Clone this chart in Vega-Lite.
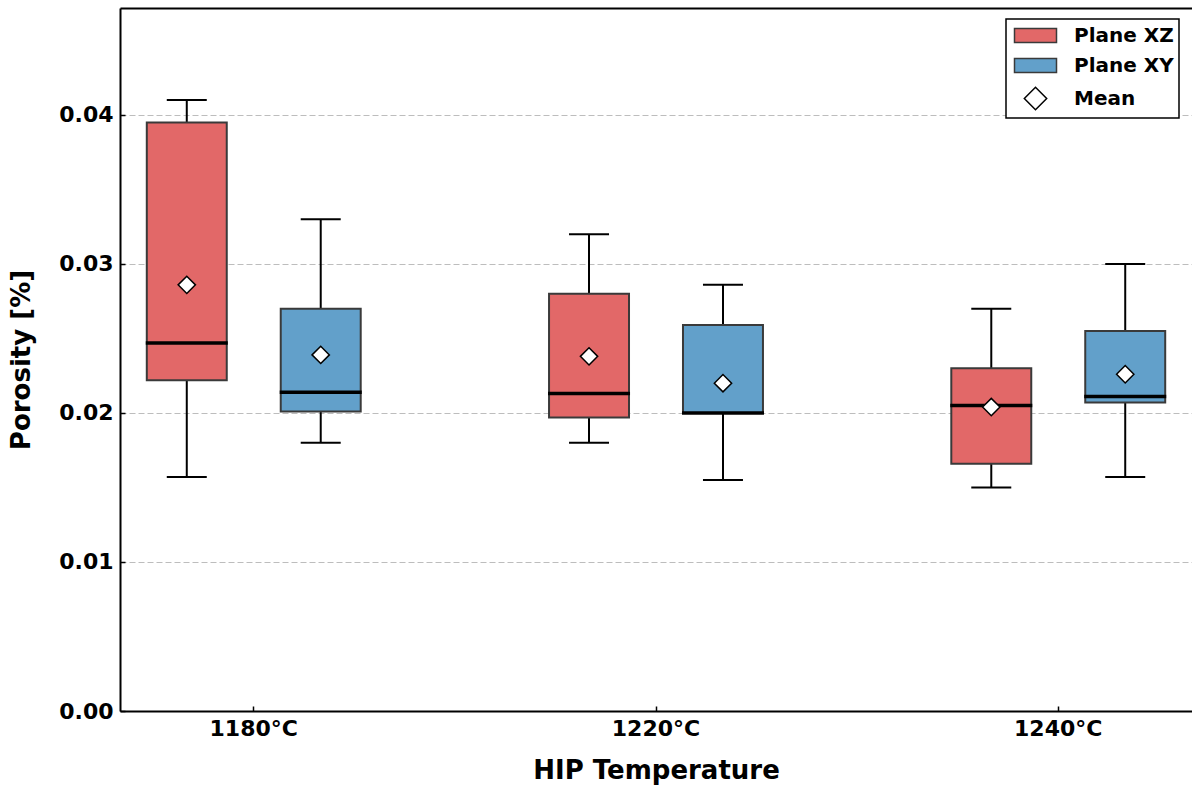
{
  "$schema": "https://vega.github.io/schema/vega-lite/v6.json",
  "autosize": {"type": "none"},
  "padding": {"left": 120, "top": 8, "right": 0, "bottom": 76},
  "width": 1072,
  "height": 703,
  "background": "white",
  "config": {
    "view": {"stroke": null},
    "font": "DejaVu Sans",
    "axis": {
      "labelFont": "DejaVu Sans",
      "labelFontWeight": "bold",
      "labelFontSize": 22,
      "labelColor": "black",
      "titleFont": "DejaVu Sans",
      "titleFontWeight": "bold",
      "titleFontSize": 26,
      "titleColor": "black",
      "domainColor": "black",
      "domainWidth": 2,
      "tickColor": "black",
      "tickWidth": 1.5
    }
  },
  "data": {
    "values": [
      {"temp": "1180°C", "plane": "Plane XZ", "min": 0.0157, "q1": 0.0222, "median": 0.0247, "q3": 0.0395, "max": 0.0410, "mean": 0.0286},
      {"temp": "1180°C", "plane": "Plane XY", "min": 0.0180, "q1": 0.0201, "median": 0.0214, "q3": 0.0270, "max": 0.0330, "mean": 0.0239},
      {"temp": "1220°C", "plane": "Plane XZ", "min": 0.0180, "q1": 0.0197, "median": 0.0213, "q3": 0.0280, "max": 0.0320, "mean": 0.0238},
      {"temp": "1220°C", "plane": "Plane XY", "min": 0.0155, "q1": 0.0200, "median": 0.0200, "q3": 0.0259, "max": 0.0286, "mean": 0.0220},
      {"temp": "1240°C", "plane": "Plane XZ", "min": 0.0150, "q1": 0.0166, "median": 0.0205, "q3": 0.0230, "max": 0.0270, "mean": 0.0204},
      {"temp": "1240°C", "plane": "Plane XY", "min": 0.0157, "q1": 0.0207, "median": 0.0211, "q3": 0.0255, "max": 0.0300, "mean": 0.0226}
    ]
  },
  "encoding": {
    "x": {
      "field": "temp",
      "type": "nominal",
      "sort": ["1180°C", "1220°C", "1240°C"],
      "scale": {"paddingInner": 0.335, "paddingOuter": 0},
      "axis": null
    },
    "xOffset": {
      "field": "plane",
      "type": "nominal",
      "sort": ["Plane XZ", "Plane XY"],
      "scale": {"paddingInner": 0.403, "paddingOuter": 0.2}
    }
  },
  "layer": [
    {
      "mark": {"type": "rule", "color": "black", "strokeWidth": 2},
      "encoding": {
        "x": {
          "field": "temp",
          "type": "nominal",
          "sort": ["1180°C", "1220°C", "1240°C"],
          "title": "HIP Temperature",
          "axis": {"orient": "bottom", "labelAngle": 0, "tickSize": -5, "labelPadding": 12, "titlePadding": 18, "grid": false}
        },
        "y": {
          "field": "min",
          "type": "quantitative",
          "scale": {"domain": [0, 0.04718], "nice": false, "zero": true},
          "title": "Porosity [%]",
          "axis": {
            "values": [0, 0.01, 0.02, 0.03, 0.04],
            "format": ".2f",
            "tickSize": -5,
            "labelPadding": 12,
            "titlePadding": 24,
            "grid": true,
            "gridDash": [6, 3],
            "gridColor": "#bdbdbd",
            "gridWidth": 1
          }
        },
        "y2": {"field": "max"}
      }
    },
    {
      "mark": {"type": "tick", "color": "black", "size": 40, "thickness": 2, "opacity": 1},
      "encoding": {"y": {"field": "min", "type": "quantitative"}}
    },
    {
      "mark": {"type": "tick", "color": "black", "size": 40, "thickness": 2, "opacity": 1},
      "encoding": {"y": {"field": "max", "type": "quantitative"}}
    },
    {
      "mark": {"type": "bar", "stroke": "#3a3a3a", "strokeWidth": 2, "opacity": 1},
      "encoding": {
        "y": {"field": "q1", "type": "quantitative"},
        "y2": {"field": "q3"},
        "color": {
          "field": "plane",
          "type": "nominal",
          "scale": {
            "domain": ["Plane XZ", "Plane XY", "Mean"],
            "range": ["#e26868", "#62a0ca", "white"]
          },
          "legend": {
            "title": null,
            "orient": "none",
            "legendX": 886,
            "legendY": 11,
            "padding": 5,
            "fillColor": "white",
            "strokeColor": "black",
            "cornerRadius": 0,
            "labelFont": "DejaVu Sans",
            "labelFontWeight": "bold",
            "labelFontSize": 20,
            "labelColor": "black",
            "labelOffset": 27,
            "labelExpr": "datum.label + '    '",
            "rowPadding": 8,
            "symbolOffset": 13,
            "symbolSize": 441,
            "symbolType": "M-2,-0.667H2V0.667H-2Z",
            "symbolStrokeColor": "#3a3a3a",
            "symbolStrokeWidth": 1.5,
            "symbolOpacity": 1,
            "encode": {
              "legend": {"update": {"strokeWidth": {"value": 1.5}}},
              "symbols": {
                "update": {
                  "shape": {"signal": "datum.value === 'Mean' ? 'diamond' : 'M-2,-0.667H2V0.667H-2Z'"},
                  "stroke": {"signal": "datum.value === 'Mean' ? 'black' : '#3a3a3a'"},
                  "size": {"signal": "datum.value === 'Mean' ? 500 : 441"}
                }
              }
            }
          }
        }
      }
    },
    {
      "mark": {"type": "tick", "color": "black", "size": 82, "thickness": 3.5, "opacity": 1},
      "encoding": {"y": {"field": "median", "type": "quantitative"}}
    },
    {
      "mark": {"type": "point", "shape": "diamond", "size": 300, "filled": true, "fill": "white", "stroke": "black", "strokeWidth": 1.5, "opacity": 1},
      "encoding": {
        "y": {"field": "mean", "type": "quantitative"},
        "x": {
          "field": "temp",
          "type": "nominal",
          "sort": ["1180°C", "1220°C", "1240°C"],
          "title": null,
          "axis": {"orient": "top", "labels": false, "ticks": false, "grid": false, "domain": true, "title": null}
        }
      }
    }
  ],
  "resolve": {"axis": {"x": "independent"}}
}
